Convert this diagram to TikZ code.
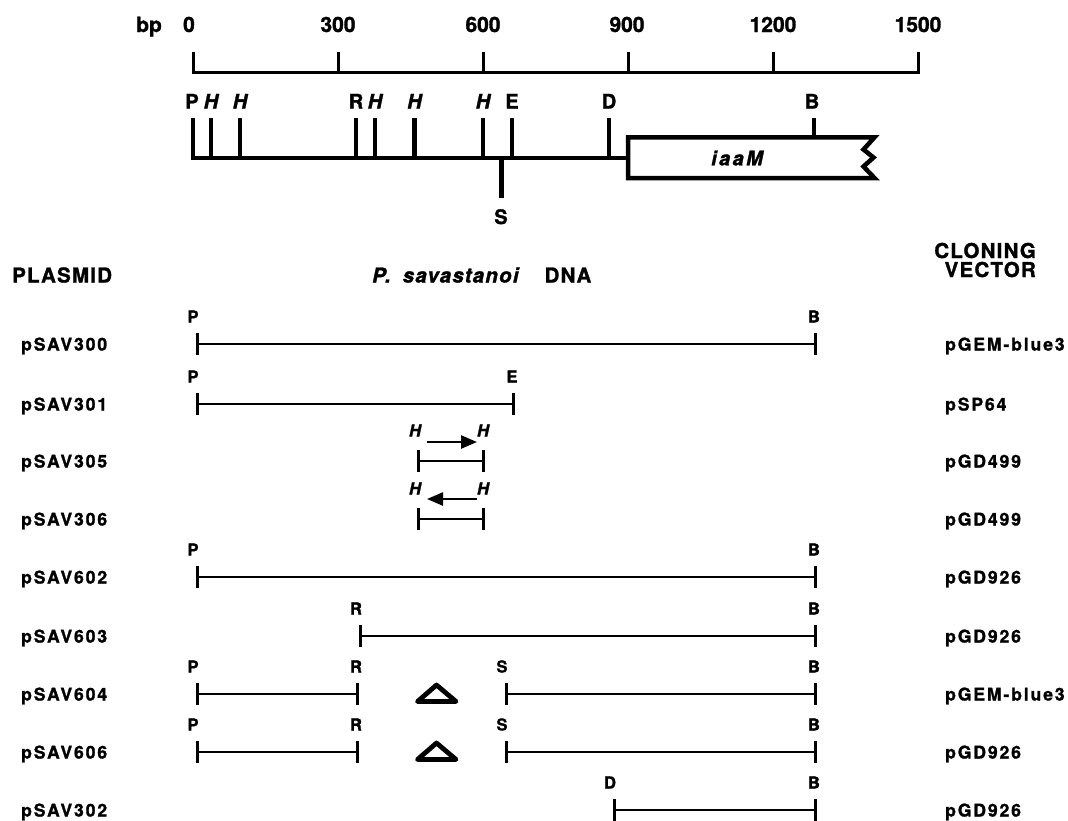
\documentclass[tikz,border=0pt]{standalone}
\usepackage{fontspec}
\setmainfont{TeX Gyre Heros}
\newfontfamily\hbN{texgyreheros-bold.otf}[FakeBold=1.4, ItalicFont=texgyreheros-bolditalic.otf]
\newfontfamily\hbA{texgyreheros-bold.otf}[FakeBold=1.4, LetterSpace=11, ItalicFont=texgyreheros-bolditalic.otf]
\newfontfamily\hbB{texgyreheros-bold.otf}[FakeBold=1.4, LetterSpace=6, ItalicFont=texgyreheros-bolditalic.otf]
\newfontfamily\hbC{texgyreheros-bold.otf}[FakeBold=1.4, LetterSpace=12, ItalicFont=texgyreheros-bolditalic.otf]
\usetikzlibrary{arrows.meta}
\tikzset{
 every node/.style={inner sep=0pt, text=black},
 numlab/.style={font=\hbN\fontsize{21}{21}\selectfont, anchor=base},
 maplab/.style={font=\hbN\fontsize{20}{20}\selectfont, anchor=base},
 mapit/.style={font=\hbN\itshape\fontsize{20}{20}\selectfont, anchor=base},
 rowlab/.style={font=\hbB\fontsize{16.5}{16.5}\selectfont, anchor=base},
 rowit/.style={font=\hbB\itshape\fontsize{16.5}{16.5}\selectfont, anchor=base},
 pname/.style={font=\hbA\fontsize{17.5}{17.5}\selectfont, anchor=base west},
 header/.style={font=\hbB\fontsize{20.5}{19}\selectfont},
 scaleline/.style={line width=3pt},
 mapline/.style={line width=4.5pt},
 frag/.style={line width=2.5pt, arrows={Bar[width=22pt,line width=3pt]-Bar[width=22pt,line width=3pt]}},
 dir/.style={line width=2.5pt, arrows={-Triangle[length=16pt,width=13pt]}},
 delta/.style={line width=4.8pt, line join=round},
}
\begin{document}
\begin{tikzpicture}[x=1pt,y=-1pt]
\fill[white] (0,0) rectangle (1068,820);
\useasboundingbox (0,0) rectangle (1068,820);

% ---------- scale ----------
\node[numlab] (bp) at (149,32) {bp};
\foreach \v/\x/\lx in {0/193/189,300/338/338,600/483/483,900/628/627,1200/773/773,1500/918/918}{
  \coordinate (s\v) at (\x,72);
  \coordinate (st\v) at (\x,52);
  \node[numlab] (n\v) at (\lx,32) {\v};
}
\draw[scaleline] (st0) -- (s0) -- (s1500) -- (st1500);
\foreach \v in {300,600,900,1200} \draw[scaleline] (s\v) -- (st\v);

% ---------- map ----------
\draw[mapline, fill=white] (628,137.3) -- (874.5,137.3) -- (863.5,149.5) -- (873.5,157.5) -- (863.5,166.5) -- (874.5,178) -- (628,178) -- cycle;
\node[font=\hbC\itshape\fontsize{20}{20}\selectfont] (iaam) at (737,158) {iaaM};
\coordinate (mP) at (193,158); \coordinate (mPt) at (193,118);
\coordinate (boxL) at (628,158);
\draw[mapline] (mPt) -- (mP) -- (boxL);
\node[maplab] (lP) at (192,108.5) {P};
\foreach \n/\x in {H1/211,H2/240,H3/375,H4/414.5,H5/483}{
  \coordinate (m\n) at (\x,158); \coordinate (m\n t) at (\x,118);
  \draw[mapline] (m\n) -- (m\n t);
  \node[mapit] (l\n) at (\x,108.5) {H};
}
\foreach \n/\x in {R/356,E/512,D/609}{
  \coordinate (m\n) at (\x,158); \coordinate (m\n t) at (\x,118);
  \draw[mapline] (m\n) -- (m\n t);
  \node[maplab] (l\n) at (\x,108.5) {\n};
}
\coordinate (mB) at (814,137.3); \coordinate (mBt) at (814,118);
\draw[mapline] (mB) -- (mBt);
\node[maplab] (lB) at (812,108.5) {B};
\coordinate (mS) at (501.5,158); \coordinate (mSb) at (501.5,198);
\draw[mapline] (mS) -- (mSb);
\node[maplab] (lS) at (501,224) {S};

% ---------- headers ----------
\node[header, anchor=base west] (plasmid) at (12,282.5) {PLASMID};
\node[header, anchor=base west] (dna) at (372,282.5) {\itshape P.\hspace{12pt}savastanoi\hspace{26pt}\upshape DNA};
\node[header, anchor=base east, align=right] (vector) at (1036,277) {CLONING\\VECTOR};

% ---------- rows ----------
% pSAV300
\coordinate (a1) at (196,344); \coordinate (b1) at (817,344);
\draw[frag] (a1) -- (b1);
\node[rowlab] (a1l) at (193,322.5) {P}; \node[rowlab] (b1l) at (814,322.5) {B};
\node[pname] (p1) at (21,350.5) {pSAV300}; \node[pname] (v1) at (945,350.5) {pGEM-blue3};
% pSAV301
\coordinate (a2) at (196,404); \coordinate (b2) at (515,404);
\draw[frag] (a2) -- (b2);
\node[rowlab] (a2l) at (193,382.5) {P}; \node[rowlab] (b2l) at (512,382.5) {E};
\node[pname] (p2) at (21,410.5) {pSAV301}; \node[pname] (v2) at (945,410.5) {pSP64};
% pSAV305
\coordinate (a3) at (417,461); \coordinate (b3) at (485,461);
\draw[frag] (a3) -- (b3);
\node[rowit] (a3l) at (415,436.5) {H}; \node[rowit] (b3l) at (483,436.5) {H};
\coordinate (h3a) at (427,442); \coordinate (h3b) at (477,442);
\draw[dir] (h3a) -- (h3b);
\node[pname] (p3) at (21,467.5) {pSAV305}; \node[pname] (v3) at (945,467.5) {pGD499};
% pSAV306
\coordinate (a4) at (417,519); \coordinate (b4) at (485,519);
\draw[frag] (a4) -- (b4);
\node[rowit] (a4l) at (415,494.5) {H}; \node[rowit] (b4l) at (483,494.5) {H};
\coordinate (h4a) at (477,499); \coordinate (h4b) at (427,499);
\draw[dir] (h4a) -- (h4b);
\node[pname] (p4) at (21,525.5) {pSAV306}; \node[pname] (v4) at (945,525.5) {pGD499};
% pSAV602
\coordinate (a5) at (196,577); \coordinate (b5) at (817,577);
\draw[frag] (a5) -- (b5);
\node[rowlab] (a5l) at (193,555.5) {P}; \node[rowlab] (b5l) at (814,555.5) {B};
\node[pname] (p5) at (21,583.5) {pSAV602}; \node[pname] (v5) at (945,583.5) {pGD926};
% pSAV603
\coordinate (a6) at (359,636); \coordinate (b6) at (817,636);
\draw[frag] (a6) -- (b6);
\node[rowlab] (a6l) at (356,614.5) {R}; \node[rowlab] (b6l) at (814,614.5) {B};
\node[pname] (p6) at (21,642.5) {pSAV603}; \node[pname] (v6) at (945,642.5) {pGD926};
% pSAV604
\coordinate (a7) at (196,694); \coordinate (b7) at (359,694);
\coordinate (c7) at (505,694); \coordinate (d7) at (817,694);
\draw[frag] (a7) -- (b7);
\draw[frag] (c7) -- (d7);
\node[rowlab] (a7l) at (193,672.5) {P}; \node[rowlab] (b7l) at (356,672.5) {R};
\node[rowlab] (c7l) at (502,672.5) {S}; \node[rowlab] (d7l) at (814,672.5) {B};
\draw[delta] (417.5,701.5) -- (436.5,685) -- (456,701.5) -- cycle;
\node[pname] (p7) at (21,700.5) {pSAV604}; \node[pname] (v7) at (945,700.5) {pGEM-blue3};
% pSAV606
\coordinate (a8) at (196,752); \coordinate (b8) at (359,752);
\coordinate (c8) at (505,752); \coordinate (d8) at (817,752);
\draw[frag] (a8) -- (b8);
\draw[frag] (c8) -- (d8);
\node[rowlab] (a8l) at (193,730.5) {P}; \node[rowlab] (b8l) at (356,730.5) {R};
\node[rowlab] (c8l) at (502,730.5) {S}; \node[rowlab] (d8l) at (814,730.5) {B};
\draw[delta] (417.5,759.5) -- (436.5,743) -- (456,759.5) -- cycle;
\node[pname] (p8) at (21,758.5) {pSAV606}; \node[pname] (v8) at (945,758.5) {pGD926};
% pSAV302
\coordinate (a9) at (613,810); \coordinate (b9) at (817,810);
\draw[frag] (a9) -- (b9);
\node[rowlab] (a9l) at (610,788.5) {D}; \node[rowlab] (b9l) at (814,788.5) {B};
\node[pname] (p9) at (21,816.5) {pSAV302}; \node[pname] (v9) at (945,816.5) {pGD926};
\end{tikzpicture}
\end{document}
